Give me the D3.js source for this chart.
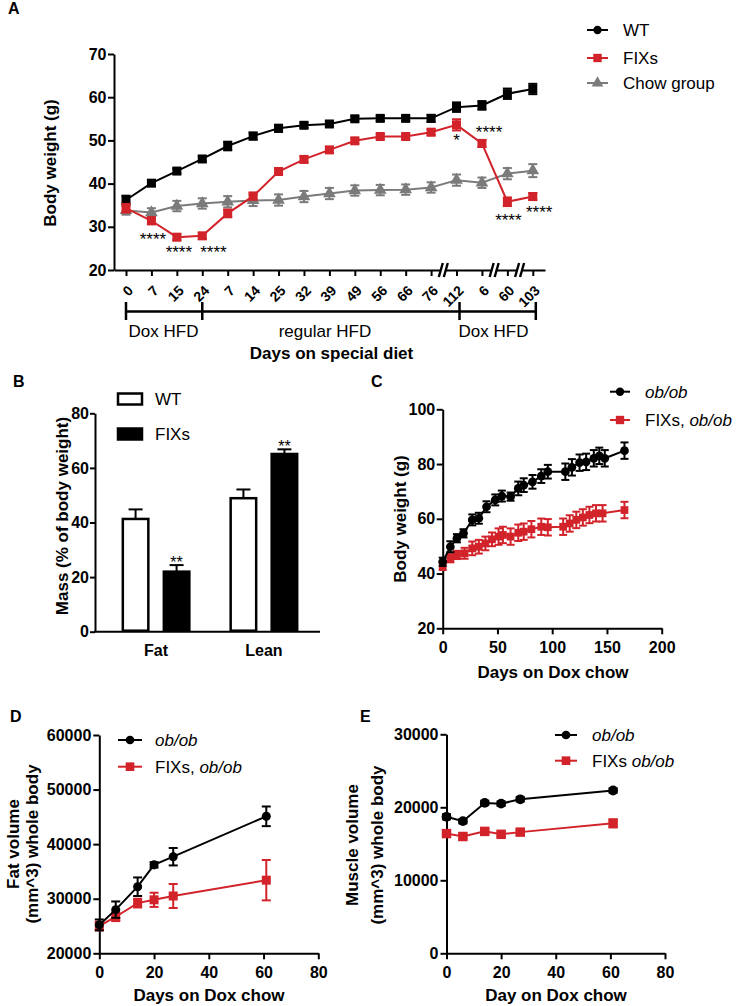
<!DOCTYPE html>
<html><head><meta charset="utf-8">
<script src="https://cdn.jsdelivr.net/npm/d3@7"></script>
<style>html,body{margin:0;padding:0;background:#fff;}svg{display:block;}</style>
</head><body>
<script>
// ---------- DATA ----------
// Panel A
const aLabels = ["0","7","15","24","7","14","25","32","39","49","56","66","76","112","6","60","103"];
const aWT     = [36.2,40.1,42.9,45.7,48.7,51.0,52.8,53.5,53.8,55.0,55.1,55.1,55.1,57.7,58.1,60.8,61.9];
const aWTerr  = [1.0,0.6,0.6,0.6,1.0,0.8,0.8,0.6,0.6,0.6,0.6,0.6,0.8,1.1,1.0,1.2,1.2];
const aFIX    = [34.3,31.4,27.6,27.9,33.1,37.1,42.8,45.6,47.8,49.9,50.9,50.9,51.9,53.6,49.3,35.8,37.0];
const aFIXerr = [1.0,0.8,0.7,0.7,0.9,0.8,0.8,0.7,0.7,0.6,0.6,0.6,0.7,1.3,0.8,1.0,0.8];
const aChow   = [33.8,33.3,34.8,35.4,35.8,36.1,36.2,37.0,37.7,38.4,38.5,38.6,39.1,40.8,40.2,42.3,43.0];
const aChowErr= [1.0,1.0,1.2,1.2,1.3,1.3,1.3,1.3,1.3,1.2,1.2,1.2,1.2,1.3,1.2,1.3,1.5];
const aSeries = ["WT","FIXs","Chow group"];
const aPhases = ["Dox HFD","regular HFD","Dox HFD"];
const aPhaseBounds = [[0,3],[3,13],[13,16]];
const aBreaks = [12.5,14.5,15.5];
const aStars  = [{t:"****",i:1.06,v:25.8},{t:"****",i:2.08,v:22.8},{t:"****",i:3.44,v:22.8},
                 {t:"*",i:13.0,v:48.7},{t:"****",i:14.28,v:50.6},{t:"****",i:15.04,v:30.2},{t:"****",i:16.25,v:32.0}];
const aYTicks = [20,30,40,50,60,70];

// Panel B
const bGroups = ["Fat","Lean"];
const bSeries = ["WT","FIXs"];
const bWT     = [41.3,48.9];
const bWTerr  = [3.5,3.2];
const bFIX    = [22.0,65.1];
const bFIXerr = [2.4,1.7];
const bStars  = ["","**","","**"];
const bYTicks = [0,20,40,60,80];

// Panel C
const cDaysOb = [0,7,13,19,27,33,40,48,54,62,69,74,82,90,96,112,118,125,131,138,143,148,166];
const cOb     = [44.3,49.8,52.9,54.7,59.6,60.2,64.4,66.9,68.3,68.1,71.1,72.3,73.5,75.6,77.2,77.2,78.8,80.5,80.8,82.1,83.0,82.1,84.9];
const cObErr  = [1.5,2.0,1.5,1.5,2.0,2.0,2.0,2.0,2.0,1.5,2.5,2.5,2.5,2.5,2.5,3.0,3.0,3.0,3.0,3.0,3.0,3.0,3.0];
const cDaysFix= [0,7,13,20,27,33,39,45,51,55,62,69,74,81,90,96,110,116,122,128,134,140,146,166];
const cFix    = [42.8,45.6,46.8,47.4,49.2,49.8,51.0,52.5,53.5,54.1,53.5,54.9,55.3,56.2,57.1,56.9,57.1,58.3,59.6,60.5,61.4,62.0,62.0,63.2];
const cFixErr = [1.5,1.5,1.5,2.0,2.5,2.5,2.5,2.5,3.0,3.0,3.0,3.0,3.0,3.0,3.0,3.0,3.0,3.0,3.0,3.0,3.0,3.0,3.0,3.0];
const cXTicks = [0,50,100,150,200];
const cYTicks = [20,40,60,80,100];

// Panel D
const dDays   = [0,6,14,20,27,61];
const dOb     = [25200,28000,32200,36200,37700,45100];
const dObErr  = [1000,1500,1700,500,1600,1800];
const dFix    = [25000,26700,29200,29800,30500,33400];
const dFixErr = [800,800,800,1300,2200,3700];
const dXTicks = [0,20,40,60,80];
const dYTicks = [20000,30000,40000,50000,60000];

// Panel E
const eDays   = [0,6,14,20,27,61];
const eOb     = [18700,18100,20600,20500,21100,22300];
const eObErr  = [350,300,300,300,300,300];
const eFix    = [16400,16000,16700,16300,16600,17800];
const eFixErr = [350,300,300,300,300,550];
const eXTicks = [0,20,40,60,80];
const eYTicks = [0,10000,20000,30000];

// ---------- STYLE ----------
const FONT = "Arial, 'Liberation Sans', Helvetica, sans-serif";
const RED = "#d2232a", GRAY = "#7b7b7b", BLACK = "#000";

const svg = d3.select("body").append("svg").attr("width",739).attr("height",1006)
  .attr("font-family",FONT);

function styleAxis(g, fs){
  g.select(".domain").attr("stroke",BLACK).attr("stroke-width",2);
  g.selectAll(".tick line").attr("stroke",BLACK).attr("stroke-width",2);
  g.selectAll(".tick text").attr("font-family",FONT).attr("font-size",fs||16)
    .attr("font-weight","bold").attr("fill",BLACK);
}
function txt(x,y,s,o){
  o=o||{};
  const t = svg.append("text").attr("x",x).attr("y",y).text(s)
    .attr("font-size",o.fs||17).attr("font-weight",o.bold?"bold":"normal")
    .attr("text-anchor",o.anchor||"start").attr("fill",o.fill||BLACK);
  if(o.dy) t.attr("dy",o.dy);
  if(o.rot) t.attr("transform",`rotate(${o.rot},${x},${y})`);
  if(o.italic) t.attr("font-style","italic");
  return t;
}
function symbolPath(type,size){ return d3.symbol().type(type).size(size)(); }

function drawSeries(g, xs, ys, errs, xS, yS, color, sym, size, cap, lw){
  const pts = xs.map((x,i)=>({x:xS(x), y:yS(ys[i]), lo:yS(ys[i]-errs[i]), hi:yS(ys[i]+errs[i])}));
  g.append("path").attr("d", d3.line().x(d=>d.x).y(d=>d.y)(pts))
    .attr("fill","none").attr("stroke",color).attr("stroke-width",lw||2);
  const eb = g.append("g").attr("stroke",color).attr("stroke-width",2);
  pts.forEach(p=>{
    eb.append("line").attr("x1",p.x).attr("x2",p.x).attr("y1",p.lo).attr("y2",p.hi);
    eb.append("line").attr("x1",p.x-cap/2).attr("x2",p.x+cap/2).attr("y1",p.lo).attr("y2",p.lo);
    eb.append("line").attr("x1",p.x-cap/2).attr("x2",p.x+cap/2).attr("y1",p.hi).attr("y2",p.hi);
  });
  g.selectAll(null).data(pts).enter().append("path")
    .attr("d",symbolPath(sym,size)).attr("transform",d=>`translate(${d.x},${d.y})`)
    .attr("fill",color);
}
function legendItem(x1,x2,y,color,sym,size,tx,parts){
  svg.append("line").attr("x1",x1).attr("x2",x2).attr("y1",y).attr("y2",y)
    .attr("stroke",color).attr("stroke-width",2);
  svg.append("path").attr("d",symbolPath(sym,size))
    .attr("transform",`translate(${(x1+x2)/2},${y})`).attr("fill",color);
  const t = svg.append("text").attr("x",tx).attr("y",y).attr("dy","0.36em")
    .attr("font-size",17).attr("fill",BLACK);
  parts.forEach(p=>t.append("tspan").text(p[0]).attr("font-style",p[1]?"italic":"normal"));
}

// ---------- PANEL A ----------
{
  const xA = d3.scaleLinear().domain([-0.472,16.48]).range([114,545]);
  const yA = d3.scaleLinear().domain([20,70]).range([270,54]);
  const gy = svg.append("g").attr("transform","translate(114,0)")
    .call(d3.axisLeft(yA).tickValues(aYTicks).tickSize(6).tickPadding(1.5).tickSizeOuter(0));
  styleAxis(gy,16);
  const gx = svg.append("g").attr("transform","translate(0,270)")
    .call(d3.axisBottom(xA).tickValues(d3.range(aLabels.length)).tickFormat(i=>aLabels[i]).tickSize(6).tickSizeOuter(0));
  styleAxis(gx,14);
  gx.selectAll(".tick text").attr("x",0).attr("y",0).attr("dy","0.35em")
    .attr("text-anchor","end").attr("transform","translate(4,18) rotate(-45)");
  // axis breaks
  aBreaks.forEach(b=>{
    const bx = xA(b);
    svg.append("polygon").attr("points",`${bx-5},277 ${bx-1},263 ${bx+4},263 ${bx},277`).attr("fill","#fff");
    [-3,2].forEach(o=>{
      svg.append("line").attr("x1",bx+o-2).attr("y1",277).attr("x2",bx+o+2).attr("y2",263)
        .attr("stroke",BLACK).attr("stroke-width",2.4);
    });
  });
  // series
  const g = svg.append("g");
  const idx = d3.range(aLabels.length);
  drawSeries(g, idx, aChow, aChowErr, xA, yA, GRAY, d3.symbolTriangle, 70, 9);
  drawSeries(g, idx, aWT, aWTerr, xA, yA, BLACK, d3.symbolSquare, 81, 9);
  drawSeries(g, idx, aFIX, aFIXerr, xA, yA, RED, d3.symbolSquare, 81, 9);
  aStars.forEach(s=>txt(xA(s.i), yA(s.v), s.t, {fs:17, anchor:"middle"}));
  // phase brackets
  const by = 311.5;
  svg.append("line").attr("x1",xA(aPhaseBounds[0][0])).attr("x2",xA(aPhaseBounds[2][1])+3)
    .attr("y1",by).attr("y2",by).attr("stroke",BLACK).attr("stroke-width",2.5);
  const ends = [aPhaseBounds[0][0], aPhaseBounds[1][0], aPhaseBounds[2][0], aPhaseBounds[2][1]];
  ends.forEach((e,k)=>{
    const ex = xA(e) + (k>=2?3:0);
    svg.append("line").attr("x1",ex).attr("x2",ex).attr("y1",302).attr("y2",320)
      .attr("stroke",BLACK).attr("stroke-width",2.5);
  });
  const phaseCenters = [163.5,325,493.5];
  aPhases.forEach((p,k)=>txt(phaseCenters[k],331.5,p,{anchor:"middle",dy:"0.35em"}));
  txt(331.5,353,"Days on special diet",{bold:true,anchor:"middle",dy:"0.35em"});
  txt(50,163,"Body weight (g)",{bold:true,anchor:"middle",rot:-90,dy:"0.35em"});
  txt(8,14,"A",{bold:true,fs:16});
  legendItem(587,608,30,BLACK,d3.symbolCircle,55,623,[[aSeries[0],false]]);
  legendItem(587,608,58,RED,d3.symbolSquare,70,623,[[aSeries[1],false]]);
  legendItem(587,608,83,GRAY,d3.symbolTriangle,60,623,[[aSeries[2],false]]);
}

// ---------- PANEL B ----------
{
  const yB = d3.scaleLinear().domain([0,80]).range([631.7,413.3]);
  const x0 = d3.scaleBand().domain(bGroups).range([100,320]).paddingInner(0.36).paddingOuter(0.2);
  const x1 = d3.scaleBand().domain(bSeries).range([0,x0.bandwidth()]).paddingInner(0.317);
  const gy = svg.append("g").attr("transform","translate(95,0)")
    .call(d3.axisLeft(yB).tickValues(bYTicks).tickSize(5).tickPadding(1).tickSizeOuter(0));
  styleAxis(gy,16);
  svg.append("line").attr("x1",94).attr("x2",320).attr("y1",631.7).attr("y2",631.7)
    .attr("stroke",BLACK).attr("stroke-width",2);
  const vals = [];
  bGroups.forEach((gname,gi)=>{
    vals.push({g:gname,s:"WT",v:bWT[gi],e:bWTerr[gi]});
    vals.push({g:gname,s:"FIXs",v:bFIX[gi],e:bFIXerr[gi]});
  });
  vals.forEach((d,k)=>{
    const bx = x0(d.g)+x1(d.s), bw = x1.bandwidth(), cx = bx+bw/2;
    svg.append("line").attr("x1",cx).attr("x2",cx).attr("y1",yB(d.v)).attr("y2",yB(d.v+d.e))
      .attr("stroke",BLACK).attr("stroke-width",2);
    svg.append("line").attr("x1",cx-7).attr("x2",cx+7).attr("y1",yB(d.v+d.e)).attr("y2",yB(d.v+d.e))
      .attr("stroke",BLACK).attr("stroke-width",2);
    svg.append("rect").attr("x",bx+1.25).attr("y",yB(d.v)).attr("width",bw-2.5).attr("height",yB(0)-yB(d.v)-1)
      .attr("fill",d.s==="WT"?"#fff":BLACK).attr("stroke",BLACK).attr("stroke-width",2.5);
    if(bStars[k]) txt(cx, yB(d.v+d.e)+2.5, bStars[k], {fs:16, anchor:"middle"});
  });
  bGroups.forEach(gname=>txt(x0(gname)+x0.bandwidth()/2, 650, gname, {bold:true, fs:16, anchor:"middle", dy:"0.35em"}));
  // legend
  svg.append("rect").attr("x",118).attr("y",393.5).attr("width",24).attr("height",11)
    .attr("fill","#fff").attr("stroke",BLACK).attr("stroke-width",2.5);
  svg.append("rect").attr("x",118).attr("y",428.5).attr("width",24).attr("height",11)
    .attr("fill",BLACK).attr("stroke",BLACK).attr("stroke-width",2.5);
  txt(155,399,bSeries[0],{dy:"0.36em"});
  txt(155,434,bSeries[1],{dy:"0.36em"});
  txt(62,516,"Mass (% of body weight)",{bold:true,anchor:"middle",rot:-90,dy:"0.35em"});
  txt(13,387,"B",{bold:true,fs:16});
}

// ---------- PANEL C ----------
{
  const xC = d3.scaleLinear().domain([0,200]).range([442.7,661.7]);
  const yC = d3.scaleLinear().domain([20,100]).range([628.3,409.3]);
  const gy = svg.append("g").attr("transform","translate(442.7,0)")
    .call(d3.axisLeft(yC).tickValues(cYTicks).tickSize(6).tickPadding(1.5).tickSizeOuter(0));
  styleAxis(gy,16);
  const gx = svg.append("g").attr("transform","translate(0,628.3)")
    .call(d3.axisBottom(xC).tickValues(cXTicks).tickSize(6).tickPadding(7).tickSizeOuter(0));
  styleAxis(gx,16);
  const g = svg.append("g");
  drawSeries(g, cDaysFix, cFix, cFixErr, xC, yC, RED, d3.symbolSquare, 60, 8);
  drawSeries(g, cDaysOb, cOb, cObErr, xC, yC, BLACK, d3.symbolCircle, 60, 8);
  txt(553,672,"Days on Dox chow",{bold:true,anchor:"middle",dy:"0.35em"});
  txt(400,519,"Body weight (g)",{bold:true,anchor:"middle",rot:-90,dy:"0.35em"});
  txt(371,387,"C",{bold:true,fs:16});
  legendItem(610,630,391.7,BLACK,d3.symbolCircle,55,645,[["ob/ob",true]]);
  legendItem(610,630,420,RED,d3.symbolSquare,70,645,[["FIXs, ",false],["ob/ob",true]]);
}

// ---------- PANEL D ----------
{
  const xD = d3.scaleLinear().domain([0,80]).range([99.3,318.3]);
  const yD = d3.scaleLinear().domain([20000,60000]).range([953.3,735]);
  const gy = svg.append("g").attr("transform","translate(99.3,0)")
    .call(d3.axisLeft(yD).tickValues(dYTicks).tickFormat(d3.format("d")).tickSize(6).tickPadding(2).tickSizeOuter(0));
  styleAxis(gy,16);
  const gx = svg.append("g").attr("transform","translate(0,953.3)")
    .call(d3.axisBottom(xD).tickValues(dXTicks).tickSize(6).tickPadding(7).tickSizeOuter(0));
  styleAxis(gx,16);
  const g = svg.append("g");
  drawSeries(g, dDays, dFix, dFixErr, xD, yD, RED, d3.symbolSquare, 81, 9);
  drawSeries(g, dDays, dOb, dObErr, xD, yD, BLACK, d3.symbolCircle, 64, 9);
  txt(209,995,"Days on Dox chow",{bold:true,anchor:"middle",dy:"0.35em"});
  txt(13,844,"Fat volume",{bold:true,anchor:"middle",rot:-90,dy:"0.35em"});
  txt(32,844,"(mm^3) whole body",{bold:true,anchor:"middle",rot:-90,dy:"0.35em"});
  txt(10,722,"D",{bold:true,fs:16});
  legendItem(118,142,740,BLACK,d3.symbolCircle,60,155,[["ob/ob",true]]);
  legendItem(118,142,766.7,RED,d3.symbolSquare,75,155,[["FIXs, ",false],["ob/ob",true]]);
}

// ---------- PANEL E ----------
{
  const xE = d3.scaleLinear().domain([0,80]).range([446.5,665]);
  const yE = d3.scaleLinear().domain([0,30000]).range([953.3,734.3]);
  const gy = svg.append("g").attr("transform","translate(446.5,0)")
    .call(d3.axisLeft(yE).tickValues(eYTicks).tickFormat(d3.format("d")).tickSize(6).tickPadding(2).tickSizeOuter(0));
  styleAxis(gy,16);
  const gx = svg.append("g").attr("transform","translate(0,953.3)")
    .call(d3.axisBottom(xE).tickValues(eXTicks).tickSize(6).tickPadding(7).tickSizeOuter(0));
  styleAxis(gx,16);
  const g = svg.append("g");
  drawSeries(g, eDays, eFix, eFixErr, xE, yE, RED, d3.symbolSquare, 90, 9);
  drawSeries(g, eDays, eOb, eObErr, xE, yE, BLACK, d3.symbolCircle, 75, 9);
  txt(556,995,"Day on Dox chow",{bold:true,anchor:"middle",dy:"0.35em"});
  txt(352,845,"Muscle volume",{bold:true,anchor:"middle",rot:-90,dy:"0.35em"});
  txt(377,845,"(mm^3) whole body",{bold:true,anchor:"middle",rot:-90,dy:"0.35em"});
  txt(360,722,"E",{bold:true,fs:16});
  legendItem(555,577,735,BLACK,d3.symbolCircle,60,592,[["ob/ob",true]]);
  legendItem(555,577,760.7,RED,d3.symbolSquare,75,592,[["FIXs ",false],["ob/ob",true]]);
}
</script>
</body></html>
